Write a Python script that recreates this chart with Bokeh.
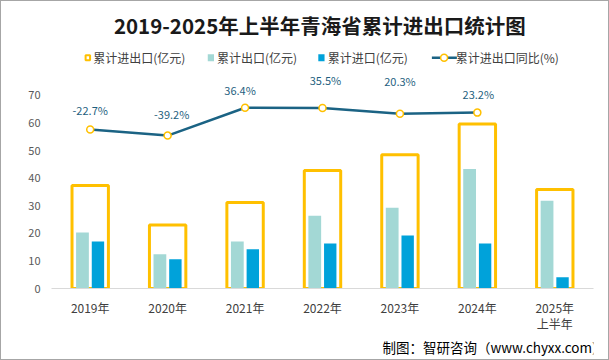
from bokeh.plotting import figure
from bokeh.layouts import column
from bokeh.models import (FactorRange, Range1d, FixedTicker, ColumnDataSource, LabelSet)
from bokeh.transform import dodge
from bokeh.core.properties import value
from bokeh.embed import file_html
from bokeh.resources import INLINE

# ---------------- data ----------------
categories = ["2019年", "2020年", "2021年", "2022年", "2023年", "2024年", "2025年\n上半年"]
total_trade = [37.3, 23.0, 31.2, 42.8, 48.5, 59.6, 35.9]      # 累计进出口(亿元)
export_vals = [20.3, 12.4, 17.0, 26.4, 29.3, 43.3, 31.8]      # 累计出口(亿元)
import_vals = [17.0, 10.6, 14.2, 16.3, 19.2, 16.3, 4.1]       # 累计进口(亿元)
growth_cats = ["2019年", "2020年", "2021年", "2022年", "2023年", "2024年"]
growth_vals = [-22.7, -39.2, 36.4, 35.5, 20.3, 23.2]          # 累计进出口同比(%)
y_ticks = [0, 10, 20, 30, 40, 50, 60, 70]

title_text = "2019-2025年上半年青海省累计进出口统计图"
legend_labels = ["累计进出口(亿元)", "累计出口(亿元)", "累计进口(亿元)", "累计进出口同比(%)"]
source_text = "制图：智研咨询（www.chyxx.com）"

# ---------------- styles ----------------
FONT = "Noto Sans CJK SC"
C_TOTAL = "#FFC000"
C_EXP = "#A3D8D5"
C_IMP = "#00A2DA"
C_LINE = "#1B6384"
C_LABEL = "#1F5F80"
C_TEXT = "#404040"
label_dx = [0, 4, -5, 3, 0, 1]
label_dy = [20, 22, 18, 28, 33, 19]

OFF = 1                  # width of the outer grey border
W = 609 - 2 * OFF
HH = 68                  # header height
HM = 265                 # main plot height
HF = 360 - 2 * OFF - HH - HM


def blank(height):
    f = figure(width=W, height=height, x_range=Range1d(0, W), y_range=Range1d(height, 0),
               output_backend="svg", toolbar_location=None, x_axis_type=None,
               y_axis_type=None, min_border=0, min_border_left=0, min_border_right=0,
               min_border_top=0, min_border_bottom=0, title=None)
    f.outline_line_color = None
    f.xgrid.visible = False
    f.ygrid.visible = False
    f.background_fill_color = "white"
    f.border_fill_color = "white"
    return f


# ---------------- header: title + legend ----------------
hdr = blank(HH)
hdr.text(x=[301.5 - OFF], y=[24 - OFF], text=[title_text], text_align="center",
         text_baseline="middle", text_font=value(FONT), text_font_size="20.5px",
         text_font_style="bold", text_color="#1A1A1A")
LY = 57.3 - OFF
hdr.rect(x=[41.7 - OFF], y=[LY], width=5, height=5, fill_color="white", line_color=C_TOTAL,
         line_width=2)
hdr.rect(x=[179.5 - OFF, 303.3 - OFF], y=[LY, LY], width=7, height=7,
         fill_color=[C_EXP, C_IMP], line_color=None)
hdr.line(x=[427 - OFF, 455 - OFF], y=[LY, LY], line_color=C_LINE, line_width=2.5)
hdr.scatter(x=[440.7 - OFF], y=[LY], size=7, marker="circle", fill_color="white",
            line_color=C_TOTAL, line_width=1.5)
legend_centers = [99.4 - OFF, 231.2 - OFF, 355.2 - OFF, 511.4 - OFF]
hdr.text(x=legend_centers, y=[LY] * 4, text=legend_labels,
         text_align="center", text_baseline="middle", text_font=value(FONT),
         text_font_size="12px", text_color=C_TEXT)

# ---------------- main chart ----------------
PX_PER_UNIT = 194.0 / 70.0
BOTTOM = 45
FRAME_H = HM - BOTTOM
p = figure(x_range=FactorRange(*categories), y_range=Range1d(0, FRAME_H / PX_PER_UNIT),
           width=W, height=HM, output_backend="svg", toolbar_location=None,
           min_border_left=51 - OFF, min_border_right=W - (593 - OFF), min_border_top=0,
           min_border_bottom=BOTTOM, title=None)
p.outline_line_color = None
p.background_fill_color = "white"
p.border_fill_color = "white"
p.xgrid.visible = False
p.ygrid.visible = False
top_page = 289 - FRAME_H
p.extra_y_ranges = {"pct": Range1d(-454.3, (120.9 - top_page) / 0.37)}

p.yaxis.ticker = FixedTicker(ticks=y_ticks)
p.yaxis.axis_line_color = None
p.yaxis.major_tick_line_color = None
p.yaxis.minor_tick_line_color = None
p.yaxis.major_tick_out = 0
p.yaxis.major_label_standoff = 11
p.yaxis.major_label_text_font = FONT
p.yaxis.major_label_text_font_size = "11px"
p.yaxis.major_label_text_color = "#595959"

p.xaxis.axis_line_color = "#D9D9D9"
p.xaxis.axis_line_width = 1
p.xaxis.major_tick_line_color = None
p.xaxis.major_tick_out = 0
p.xaxis.major_label_standoff = 10
p.xaxis.major_label_text_font = FONT
p.xaxis.major_label_text_font_size = "12px"
p.xaxis.major_label_text_color = C_TEXT
p.xaxis.major_label_text_line_height = 0.95

src = ColumnDataSource(dict(cat=categories, total=total_trade, exp=export_vals, imp=import_vals))
p.vbar(x="cat", top="total", width=0.47, source=src, fill_color=None,
       line_color=C_TOTAL, line_width=3)
p.vbar(x=dodge("cat", -0.1, range=p.x_range), top="exp", width=0.165, source=src,
       fill_color=C_EXP, line_color=None)
p.vbar(x=dodge("cat", 0.1, range=p.x_range), top="imp", width=0.16, source=src,
       fill_color=C_IMP, line_color=None)

lsrc = ColumnDataSource(dict(cat=growth_cats, g=growth_vals,
                             lab=[f"{v:.1f}%" for v in growth_vals],
                             dx=label_dx, dy=label_dy))
p.line("cat", "g", source=lsrc, y_range_name="pct", line_color=C_LINE, line_width=2.5)
p.scatter("cat", "g", source=lsrc, y_range_name="pct", size=7, marker="circle",
          fill_color="white", line_color=C_TOTAL, line_width=1.5)
p.add_layout(LabelSet(x="cat", y="g", text="lab", source=lsrc, y_range_name="pct",
                      x_offset="dx", y_offset="dy", text_align="center", text_baseline="middle",
                      text_font=value(FONT), text_font_size="11px", text_color=C_LABEL))

# ---------------- footer ----------------
ftr = blank(HF)
ftr.text(x=[496.5 - OFF], y=[346.7 - OFF - HH - HM], text=[source_text], text_align="center",
         text_baseline="middle", text_font=value(FONT), text_font_size="13.5px",
         text_color="#000000")

layout = column(hdr, p, ftr, spacing=0,
                styles={"border": f"{OFF}px solid #A6A6A6"})

open("out.html", "w").write(file_html(layout, INLINE))
